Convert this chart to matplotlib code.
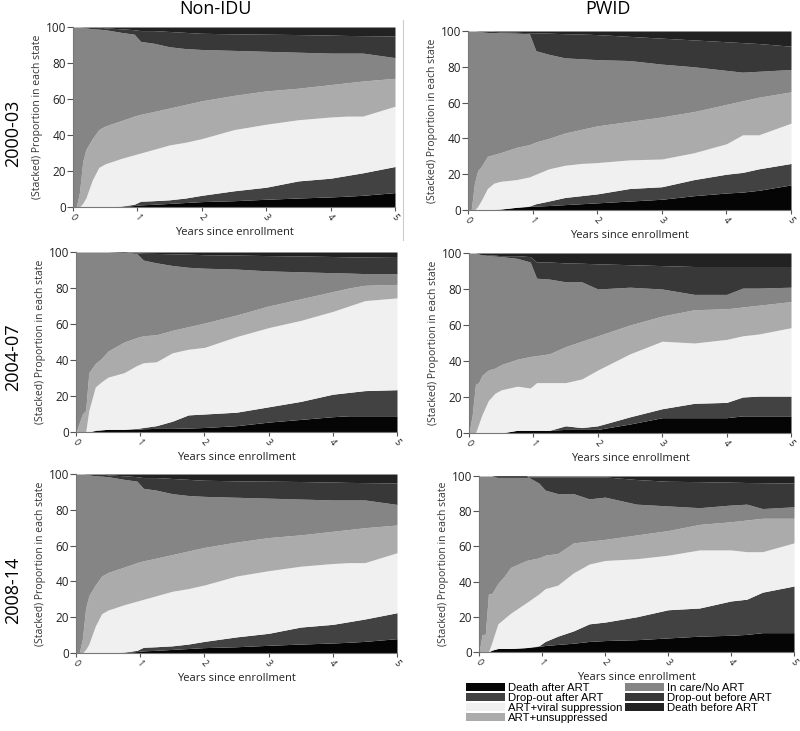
import numpy as np
import matplotlib
matplotlib.use('Agg')
from matplotlib import pyplot as plt
from matplotlib.patches import Patch
from matplotlib.lines import Line2D

plt.rcParams['font.family'] = ['Open Sans', 'DejaVu Sans']

# time points (years since enrollment)
years = [0, 0.05, 0.1, 0.15, 0.2, 0.3, 0.4, 0.5, 0.75, 0.95, 1.05,
         1.25, 1.5, 1.75, 2, 2.5, 3, 3.5, 4, 4.25, 4.5, 5]

states = ['Death after ART', 'Drop-out after ART', 'ART+viral suppression',
          'ART+unsuppressed', 'In care/No ART', 'Drop-out before ART',
          'Death before ART']
colors = ['#050505', '#424242', '#f0f0f0', '#ababab', '#858585', '#383838', '#222222']

col_titles = ['Non-IDU', 'PWID']
row_titles = ['2000-03', '2004-07', '2008-14']

# stacked (cumulative) upper edges of the first six states, in %
nonidu_0003 = [
    [0, 0, 0, 0, 0, 0, 0, 0, 0.3, 0.8, 1.2, 1.5, 2, 2.5, 3, 3.5, 4.3, 5, 5.6, 6, 6.5, 8],
    [0, 0, 0, 0, 0, 0, 0, 0, 0.5, 1.5, 3.2, 3.5, 4, 5, 6.5, 9, 11, 14.5, 16, 17.5, 19, 22.5],
    [0, 0, 0, 2, 5, 15, 22, 24, 27, 29, 30, 32, 34.5, 36, 38, 43, 46, 48.5, 50, 50.5, 50.5, 56],
    [0, 0, 8, 25, 32, 38, 43, 45, 48, 50.5, 51.5, 53, 55, 57, 59, 62, 64.5, 66, 68, 69, 70, 71.5],
    [100, 100, 100, 99.8, 99.5, 99, 98.8, 98.5, 97, 96, 92, 91, 89, 88, 87.5, 87, 86.5, 86, 85.5, 85.5, 85.5, 83],
    [100, 100, 100, 100, 100, 100, 100, 99.5, 99, 98.5, 98, 98, 97.5, 97, 96.5, 96.2, 96, 95.8, 95.5, 95.3, 95.2, 95],
]
pwid_0003 = [
    [0, 0, 0, 0, 0, 0.2, 0.3, 0.5, 1.5, 2, 2.2, 2.5, 3, 3.5, 4, 5, 6, 8, 9.5, 10, 11, 14],
    [0, 0, 0, 0, 0, 0.2, 0.3, 0.5, 1.5, 2.2, 3.5, 5, 7, 8, 9, 12, 13, 17, 20, 21, 23, 26],
    [0, 0, 0, 2, 5, 12, 15, 16, 17, 18.5, 20, 23, 25, 26, 26.5, 28, 28.5, 32, 37, 42, 42, 48.5],
    [0, 0, 15, 22, 24, 30, 31, 32, 35, 36.5, 38, 40, 43, 45, 47, 49.5, 52, 55, 59, 61, 63, 66],
    [100, 100, 100, 99.8, 99.5, 99.2, 99, 99, 98.8, 98.5, 89, 87, 85, 84.5, 84, 83.5, 81.5, 80, 78, 77, 77.5, 78.5],
    [100, 100, 100, 100, 100, 100, 99.8, 99.5, 99.3, 99, 99, 98.8, 98.5, 98.3, 98, 97, 96, 95, 94, 93.5, 93, 91.5],
]
nonidu_0407 = [
    [0, 0, 0, 0, 0, 0.8, 1.2, 1.5, 1.5, 1.5, 1.8, 2, 2, 2.2, 2.5, 3.5, 5.5, 7, 8.5, 9, 9, 9],
    [0, 0, 0, 0, 0, 1, 1.2, 1.5, 1.5, 2, 2.5, 3.5, 6, 9.5, 10, 11, 14, 17, 21, 22, 23, 23.5],
    [0, 0, 0, 0, 12, 25, 28, 30.5, 33, 37, 38.5, 39, 44, 46, 47, 53, 58, 62, 67, 70, 73, 74.5],
    [0, 5, 10, 12, 33, 38, 41, 45, 50, 52.5, 53.5, 54, 56.5, 58.5, 60.5, 65, 70, 74, 78, 80, 81.5, 82],
    [100, 100, 100, 100, 100, 100, 100, 100, 100, 99, 95.5, 94, 92.5, 91.5, 91, 90.5, 89.5, 89, 88.5, 88.3, 88, 88],
    [100, 100, 100, 100, 100, 100, 100, 100, 99.8, 99.5, 99.3, 99.2, 99, 98.8, 98.5, 98.3, 98, 97.8, 97.5, 97.3, 97.2, 97],
]
pwid_0407 = [
    [0, 0, 0, 0, 0, 0, 0, 0, 1.5, 1.5, 1.5, 1.5, 2, 2, 2, 5, 8.5, 8.5, 8.5, 9.5, 9.5, 9.5],
    [0, 0, 0, 0, 0, 0, 0, 0, 1.5, 1.5, 1.5, 1.5, 4, 3, 4, 9, 13.5, 16.5, 17, 20, 20.5, 20.5],
    [0, 0, 0, 5, 10, 18, 22, 24, 26, 25, 28, 28, 28, 30, 35, 44, 51, 50, 52, 54, 55, 58.5],
    [0, 10, 27, 28, 32, 35, 36, 38, 41, 42.5, 43, 44, 48, 51, 54, 60, 65, 68.5, 69, 70, 71, 73],
    [100, 100, 100, 99.5, 99, 98.5, 98.3, 98, 97, 95, 86, 85.5, 84, 84, 80, 81, 80, 77, 77, 80.5, 80.5, 81],
    [100, 100, 100, 99.5, 99, 99, 98.8, 98.5, 98.5, 98, 95, 95, 94.5, 94.3, 94, 93.5, 93, 92.5, 92.5, 92.5, 92.5, 92.5],
]
nonidu_0814 = [
    [0, 0, 0, 0, 0, 0, 0, 0, 0.3, 0.8, 1.2, 1.5, 2, 2.5, 3, 3.5, 4.3, 5, 5.6, 6, 6.5, 8],
    [0, 0, 0, 0, 0, 0, 0, 0, 0.5, 1.5, 3.2, 3.5, 4, 5, 6.5, 9, 11, 14.5, 16, 17.5, 19, 22.5],
    [0, 0, 0, 2, 5, 15, 22, 24, 27, 29, 30, 32, 34.5, 36, 38, 43, 46, 48.5, 50, 50.5, 50.5, 56],
    [0, 0, 8, 25, 32, 38, 43, 45, 48, 50.5, 51.5, 53, 55, 57, 59, 62, 64.5, 66, 68, 69, 70, 71.5],
    [100, 100, 100, 99.8, 99.5, 99, 98.8, 98.5, 97, 96, 92, 91, 89, 88, 87.5, 87, 86.5, 86, 85.5, 85.5, 85.5, 83],
    [100, 100, 100, 100, 100, 100, 100, 99.5, 99, 98.5, 98, 98, 97.5, 97, 96.5, 96.2, 96, 95.8, 95.5, 95.3, 95.2, 95],
]
pwid_0814 = [
    [0, 0, 0, 0, 1, 2, 2, 2, 2.5, 3.2, 3.7, 4.3, 5, 6, 6.5, 7, 8, 9, 9.5, 10, 11, 11],
    [0, 0, 0, 0, 1, 2, 2, 2, 2.5, 3.5, 6, 9, 12, 16, 17, 20, 24, 25, 29, 30, 34, 37.5],
    [0, 0, 0, 0, 5, 16, 19, 22, 28, 33, 36, 38, 45, 50, 52, 53, 55, 58, 58, 57, 57, 62],
    [0, 10, 10, 33, 33, 39, 43, 48, 52, 53.5, 55, 56, 62, 63, 64, 66.5, 69, 72.5, 74, 75, 76, 76],
    [100, 100, 100, 100, 100, 100, 100, 100, 100, 96, 92, 90, 90, 87, 88, 84, 83, 82, 83.5, 84, 81.5, 82.5],
    [100, 100, 100, 100, 100, 99.5, 99.5, 99.5, 99.5, 99.5, 99.5, 99.5, 99.5, 99.5, 99.5, 98, 97, 96.8, 96.5, 96.3, 96.2, 96],
]

panels = [[nonidu_0003, pwid_0003], [nonidu_0407, pwid_0407], [nonidu_0814, pwid_0814]]

# axes boxes in figure pixels: left, right, top, bottom
W, H = 800, 731
boxes = [[(73, 395, 27, 207), (468, 791, 31, 210)],
         [(76, 397, 252, 432), (469, 791, 253, 433)],
         [(76, 397, 474, 653), (479, 794, 476, 652)]]


def draw_panel(ax, edges):
    t = np.array(years)
    lower = np.zeros(len(t))
    for k in range(7):
        upper = np.array(edges[k]) if k < 6 else np.full(len(t), 100.0)
        ax.fill_between(t, lower, upper, color=colors[k], lw=0)
        lower = upper
    ax.set_xlim(0, 5)
    ax.set_ylim(0, 100)
    ax.set_yticks([0, 20, 40, 60, 80, 100])
    ax.set_xticks([0, 1, 2, 3, 4, 5])
    ax.tick_params(axis='y', labelsize=8.5, length=4, color='#555555', labelcolor='#222222', pad=1)
    ax.tick_params(axis='x', labelsize=6.5, length=3, color='#555555', labelcolor='#222222',
                   labelrotation=-50, pad=1)
    for s in ['top', 'right']:
        ax.spines[s].set_visible(False)
    for s in ['left', 'bottom']:
        ax.spines[s].set_color('#777777')
        ax.spines[s].set_linewidth(0.8)
    ax.set_xlabel('Years since enrollment', fontsize=8, color='#222222', labelpad=3)
    ax.set_ylabel('(Stacked) Proportion in each state', fontsize=7.5, color='#333333', labelpad=2)


fig = plt.figure(figsize=(W / 100, H / 100), dpi=100)

for r in range(3):
    for c in range(2):
        x0, x1, y0, y1 = boxes[r][c]
        ax = fig.add_axes([x0 / W, 1 - y1 / H, (x1 - x0) / W, (y1 - y0) / H])
        draw_panel(ax, panels[r][c])

fig.text(215 / W, 1 - 9 / H, col_titles[0], ha='center', va='center', fontsize=13)
fig.text(608 / W, 1 - 9 / H, col_titles[1], ha='center', va='center', fontsize=13)
for r, yc in enumerate([133, 357, 590]):
    fig.text(13 / W, 1 - yc / H, row_titles[r], ha='center', va='center', rotation=90, fontsize=13)

# thin separator near the top of the figure
fig.add_artist(Line2D([403 / W, 403 / W], [1 - 20 / H, 1 - 240 / H], color='#cccccc', lw=0.8))

handles = [Patch(facecolor=colors[k], edgecolor='none') for k in range(7)]
fig.legend(handles, states, ncol=2, loc='upper left', bbox_to_anchor=(466 / W, 1 - 683 / H),
           frameon=False, handlelength=3.4, handleheight=0.7, handletextpad=0.3,
           labelspacing=0.0, columnspacing=0.2, borderpad=0, borderaxespad=0,
           prop={'family': 'Liberation Sans', 'size': 8.2})

fig.savefig('out.png', dpi=100)
